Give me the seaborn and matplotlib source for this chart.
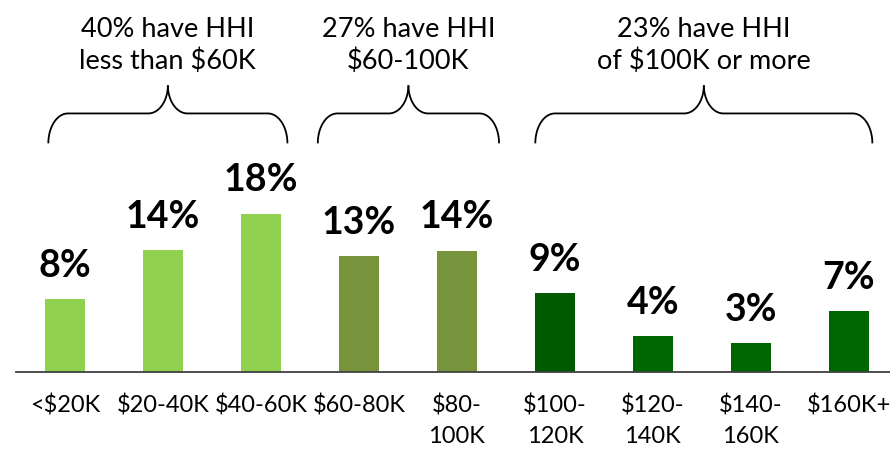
import numpy as np
import matplotlib
matplotlib.use("Agg")
import matplotlib.pyplot as plt
import seaborn as sns

# Household income distribution (share of households, %)
categories = ["<$20K", "$20-40K", "$40-60K", "$60-80K", "$80-\n100K",
              "$100-\n120K", "$120-\n140K", "$140-\n160K", "$160K+"]
shares = [8.3, 13.9, 18.0, 13.2, 13.8, 9.0, 4.1, 3.3, 6.9]
share_labels = ["8%", "14%", "18%", "13%", "14%", "9%", "4%", "3%", "7%"]
bar_colors = ["#92D050", "#92D050", "#92D050", "#77933C", "#77933C",
              "#005A00", "#006600", "#006600", "#006600"]

# Brace groups: (left edge, right edge) in category units, and their captions
group_span = [(-0.17, 2.27), (2.58, 4.43), (4.80, 8.24)]
group_text = ["40% have HHI\nless than $60K", "27% have HHI\n$60-100K",
              "23% have HHI\nof $100K or more"]

sns.set_theme(style="white")
plt.rcParams["font.family"] = ["Lato", "DejaVu Sans"]

fig = plt.figure(figsize=(8.9, 4.53), dpi=100)
ax = fig.add_axes([16 / 890, 81 / 453, 874 / 890, 372 / 453])

sns.barplot(x=categories, y=shares, hue=categories, palette=bar_colors,
            legend=False, width=0.41, saturation=1, edgecolor="none", ax=ax)

ax.set_xlim(-0.5, 8.42)
ax.set_ylim(0, 42.3)

# value labels above bars
for i, (v, lab) in enumerate(zip(shares, share_labels)):
    ax.annotate(lab, (i, v), xytext=(0, 16), textcoords="offset points",
                ha="center", va="baseline", fontsize=27, fontweight="bold",
                color="black")

# curly braces over each group
tip_y, line_y, top_y = 26.0, 29.4, 32.6
rx = 0.2
for (x0, x1), txt in zip(group_span, group_text):
    xm = (x0 + x1) / 2
    t1 = np.linspace(np.pi, np.pi / 2, 30)
    t2 = np.linspace(1.5 * np.pi, 2 * np.pi, 30)
    # left half
    xs = list(x0 + rx + rx * np.cos(t1)) + list(xm - rx + rx * np.cos(t2))
    ys = list(tip_y + (line_y - tip_y) * np.sin(t1)) + \
        list(top_y + (top_y - line_y) * np.sin(t2))
    ax.plot(xs, ys, color="black", lw=1.3, clip_on=False, solid_capstyle="butt")
    ax.plot([2 * xm - x for x in xs], ys, color="black", lw=1.3,
            clip_on=False, solid_capstyle="butt")
    ax.text(xm, top_y + 1.9, txt, ha="center", va="baseline", fontsize=19.5,
            linespacing=1.3, color="black")

sns.despine(ax=ax, left=True, top=True, right=True)
ax.spines["bottom"].set_color("#404040")
ax.spines["bottom"].set_linewidth(1.3)
ax.set_yticks([])
ax.set_xlabel("")
ax.set_ylabel("")
ax.tick_params(axis="x", length=0, pad=16, labelsize=17, labelcolor="black")
for t in ax.get_xticklabels():
    t.set_linespacing(1.6)
    t.set_va("top")

fig.savefig("out.png", dpi=100)
